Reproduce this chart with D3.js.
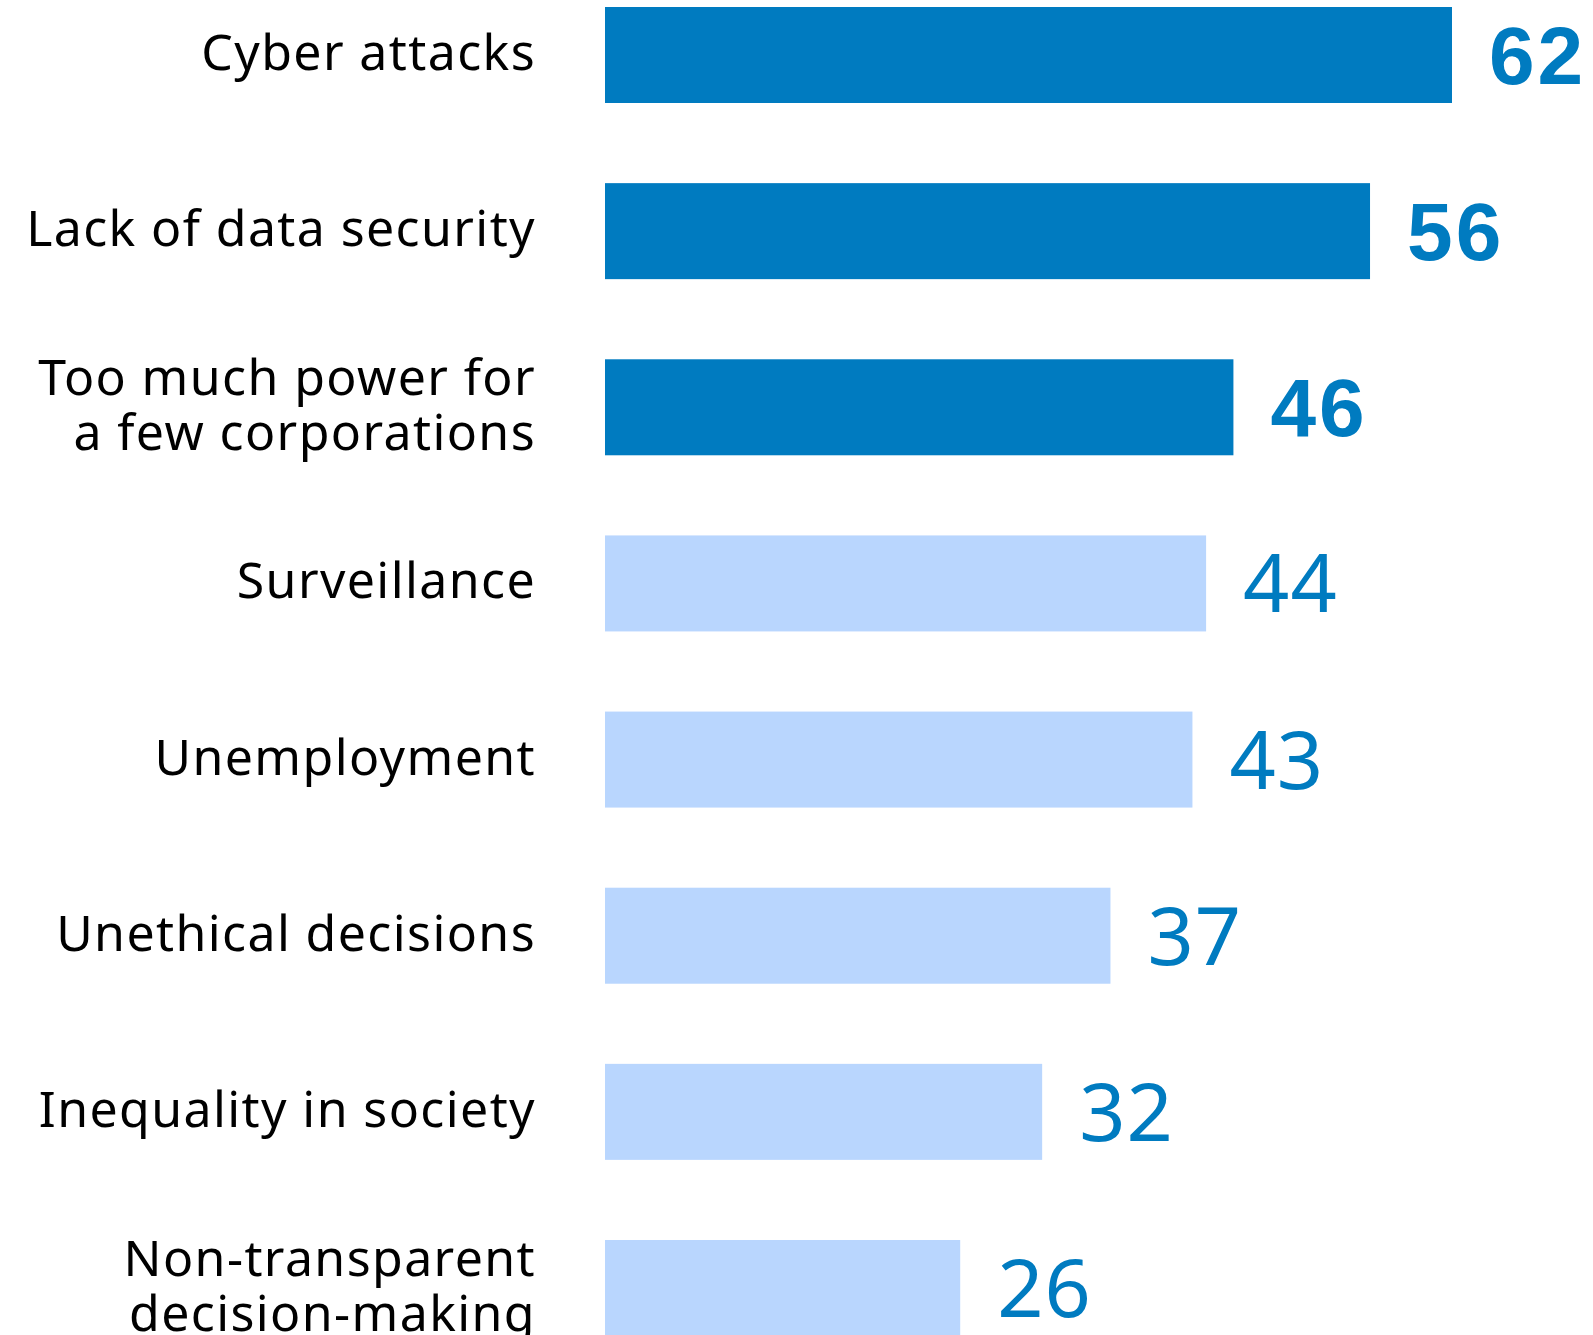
<!DOCTYPE html>
<html>
<head>
<meta charset="utf-8">
<script src="https://cdn.jsdelivr.net/npm/d3@7"></script>
<style>
  html, body { margin: 0; padding: 0; background: #ffffff; }
  svg { display: block; }
</style>
</head>
<body>
<svg id="chart" width="1593" height="1335"></svg>
<script>
// Concerns about AI, share of respondents (%)
const categories = [
  ["Cyber attacks"],
  ["Lack of data security"],
  ["Too much power for", "a few corporations"],
  ["Surveillance"],
  ["Unemployment"],
  ["Unethical decisions"],
  ["Inequality in society"],
  ["Non-transparent", "decision-making"]
];
const values = [62, 56, 46, 44, 43, 37, 32, 26];
const topConcern = [true, true, true, false, false, false, false, false];

const svg = d3.select("#chart");

const keys = categories.map(c => c.join(" "));

const y = d3.scaleBand()
  .domain(keys)
  .range([7, 1336])
  .paddingInner(0.455)
  .paddingOuter(0);

const x = d3.scaleLinear()
  .domain([0, 62])
  .range([605, 1452]);

const dark = "#007bc0";
const light = "#b9d6fe";

const rows = keys.map((k, i) => ({
  key: k, lines: categories[i], value: values[i], top: topConcern[i]
}));

// bars
svg.append("g")
  .selectAll("rect")
  .data(rows)
  .join("rect")
  .attr("x", x(0))
  .attr("y", d => y(d.key))
  .attr("width", d => x(d.value) - x(0))
  .attr("height", y.bandwidth())
  .attr("fill", d => d.top ? dark : light);

// value labels
svg.append("g")
  .selectAll("text")
  .data(rows)
  .join("text")
  .attr("x", d => x(d.value) + 37)
  .attr("y", d => y(d.key) + y.bandwidth() / 2 + 29)
  .attr("fill", dark)
  .style("font-family", d => d.top ? "'Liberation Sans', Arial, sans-serif" : "'Noto Sans', sans-serif")
  .style("font-weight", d => d.top ? 700 : 400)
  .style("font-size", d => d.top ? "82px" : "81px")
  .style("letter-spacing", d => d.top ? "3px" : "1px")
  .text(d => d.value);

// category labels
const lineGap = 55;
const cat = svg.append("g")
  .selectAll("text")
  .data(rows)
  .join("text")
  .attr("text-anchor", "end")
  .attr("fill", "#000000")
  .style("font-family", "'Noto Sans', sans-serif")
  .style("font-size", "50px")
  .style("letter-spacing", "1.4px");

cat.each(function(d) {
  const t = d3.select(this);
  const cy = y(d.key) + y.bandwidth() / 2;
  const n = d.lines.length;
  d.lines.forEach((ln, j) => {
    t.append("tspan")
      .attr("x", 536)
      .attr("y", cy + 15 + (j - (n - 1) / 2) * lineGap)
      .text(ln);
  });
});
</script>
</body>
</html>
